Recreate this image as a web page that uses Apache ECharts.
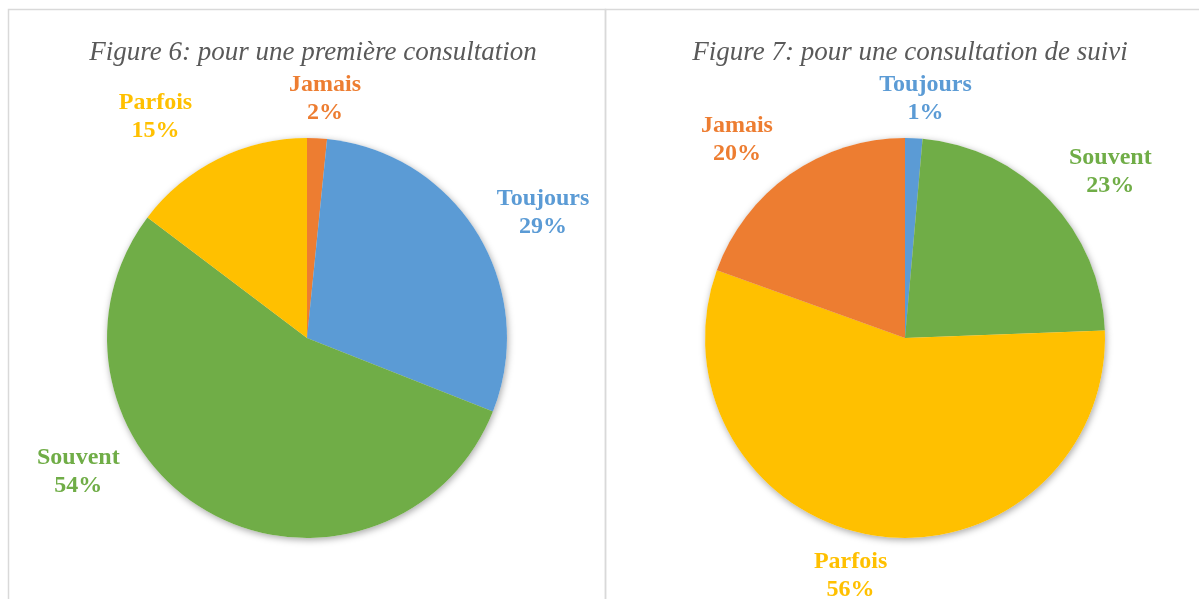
<!DOCTYPE html>
<html>
<head>
<meta charset="utf-8">
<script src="https://cdn.jsdelivr.net/npm/echarts@6/dist/echarts.min.js"></script>
<style>
  html, body { margin: 0; padding: 0; background: #fff; }
  #chart { width: 1199px; height: 599px; }
</style>
</head>
<body>
<div id="chart"></div>
<script>
// Figure 6: first consultation, clockwise from 12 o'clock
var fig6Names = ['Jamais', 'Toujours', 'Souvent', 'Parfois'];
var fig6Values = [1.6, 29.4, 54.3, 14.7];
// Figure 7: follow-up consultation
var fig7Names = ['Toujours', 'Souvent', 'Parfois', 'Jamais'];
var fig7Values = [1.4, 23.0, 56.1, 19.5];

var colors = {
  Toujours: '#5B9BD5',
  Jamais: '#ED7D31',
  Parfois: '#FFC000',
  Souvent: '#70AD47'
};

// label placement: [distance past the rim, dx, dy]
var fig6Labels = { Jamais: [40, 6, 0], Toujours: [67, 8, 14], Souvent: [28, -117, -65], Parfois: [66, -33, 17] };
var fig7Labels = { Toujours: [39, 10, 0], Souvent: [64, 14, 16], Parfois: [44, -17, -3], Jamais: [61, -18, 15] };

var myChart = echarts.init(document.getElementById('chart'));

function makeData(names, values, tweak) {
  return names.map(function (n, i) {
    return {
      name: n,
      value: values[i],
      itemStyle: { color: colors[n] },
      label: { color: colors[n] },
      labelLine: { length: tweak[n][0], length2: 0 }
    };
  });
}

function shadowSeries(cx, names, values) {
  return {
    type: 'pie',
    center: [cx, 338],
    radius: 200,
    startAngle: 90,
    silent: true,
    label: { show: false },
    labelLine: { show: false },
    itemStyle: { color: '#fff', shadowBlur: 7, shadowColor: 'rgba(0,0,0,0.35)', shadowOffsetX: 1, shadowOffsetY: 2 },
    data: names.map(function (n, i) { return { name: n, value: values[i] }; })
  };
}

function pieSeries(cx, names, values, tweak) {
  return {
    type: 'pie',
    center: [cx, 338],
    radius: 200,
    startAngle: 90,
    avoidLabelOverlap: false,
    percentPrecision: 0,
    label: {
      show: true,
      position: 'outside',
      formatter: '{b}\n{d}%',
      fontFamily: 'Liberation Serif',
      fontWeight: 'bold',
      fontSize: 24,
      lineHeight: 28,
      distanceToLabelLine: 0
    },
    labelLine: { show: false },
    labelLayout: function (p) {
      var t = tweak[names[p.dataIndex]];
      return { align: 'center', verticalAlign: 'middle', dx: t[1], dy: t[2] };
    },
    emphasis: { disabled: true },
    data: makeData(names, values, tweak)
  };
}

var titleStyle = {
  fontFamily: 'Liberation Serif',
  fontStyle: 'italic',
  fontWeight: 'normal',
  fontSize: 27,
  color: '#595959'
};

option = {
  animation: false,
  backgroundColor: '#fff',
  title: [
    { text: 'Figure 6: pour une première consultation', left: 308, top: 34, textAlign: 'center', textStyle: titleStyle },
    { text: 'Figure 7: pour une consultation de suivi', left: 905, top: 34, textAlign: 'center', textStyle: titleStyle }
  ],
  graphic: [
    { type: 'rect', shape: { x: 8.5, y: 9.5, width: 597, height: 620 }, style: { fill: 'none', stroke: '#d9d9d9', lineWidth: 1.5 } },
    { type: 'rect', shape: { x: 605.5, y: 9.5, width: 620, height: 620 }, style: { fill: 'none', stroke: '#d9d9d9', lineWidth: 1.5 } }
  ],
  series: [
    shadowSeries(307, fig6Names, fig6Values),
    shadowSeries(905, fig7Names, fig7Values),
    pieSeries(307, fig6Names, fig6Values, fig6Labels),
    pieSeries(905, fig7Names, fig7Values, fig7Labels)
  ]
};

myChart.setOption(option);
</script>
</body>
</html>
